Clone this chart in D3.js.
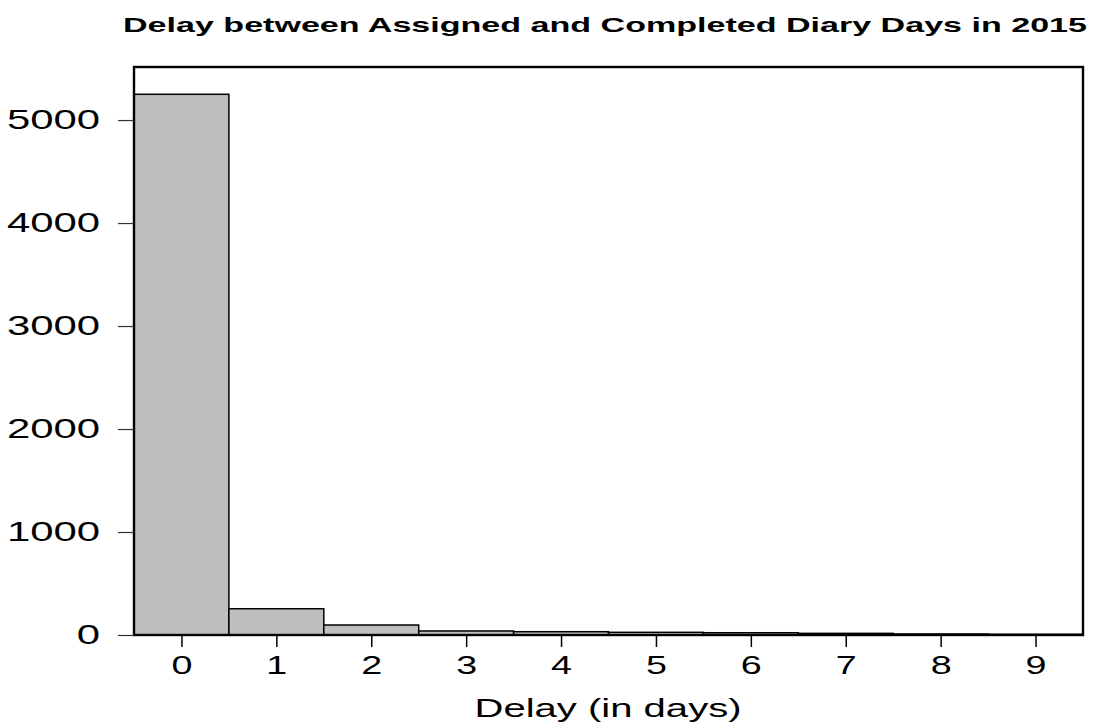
<!DOCTYPE html>
<html>
<head>
<meta charset="utf-8">
<script src="https://cdn.jsdelivr.net/npm/d3@7"></script>
<style>
  body { margin: 0; background: #fff; }
  svg { display: block; font-family: "Liberation Sans", Arial, sans-serif; }
</style>
</head>
<body>
<svg id="chart" width="1096" height="723"></svg>
<script>
// histogram of delay counts
const delays = [0, 1, 2, 3, 4, 5, 6, 7, 8, 9];
const counts = [5250, 255, 97, 39, 32, 26, 22, 16, 10, 7];
const yTicks = [0, 1000, 2000, 3000, 4000, 5000];

const box = { left: 134, right: 1083, top: 67, bottom: 635 };

const svg = d3.select("#chart");

const x = d3.scaleLinear().domain([-0.5, 9.5]).range([box.left, box.right]);
const y = d3.scaleLinear().domain([0, 5515]).range([box.bottom, box.top]);

// the original output has wide, horizontally stretched glyphs
function stretch(sel, k) {
  sel.each(function () {
    const w = this.getComputedTextLength();
    d3.select(this).attr("textLength", w * k).attr("lengthAdjust", "spacingAndGlyphs");
  });
}

// bars
svg.append("g")
  .selectAll("rect")
  .data(delays)
  .enter().append("rect")
  .attr("x", d => x(d - 0.5))
  .attr("width", d => x(d + 0.5) - x(d - 0.5))
  .attr("y", (d, i) => y(counts[i]))
  .attr("height", (d, i) => y(0) - y(counts[i]))
  .attr("fill", "#bebebe")
  .attr("stroke", "#000")
  .attr("stroke-width", 1.5);

// plot frame
svg.append("rect")
  .attr("x", box.left)
  .attr("y", box.top)
  .attr("width", box.right - box.left)
  .attr("height", box.bottom - box.top)
  .attr("fill", "none")
  .attr("stroke", "#000")
  .attr("stroke-width", 2.4);

// y axis
const yAxis = svg.append("g")
  .attr("transform", `translate(${box.left},0)`)
  .call(d3.axisLeft(y).tickValues(yTicks).tickSize(16).tickPadding(18).tickFormat(d3.format("d")));
yAxis.select(".domain").remove();
yAxis.selectAll("line").attr("stroke", "#333").attr("stroke-width", 1.2);
yAxis.selectAll("text").attr("font-size", 27).attr("fill", "#000")
  .attr("font-family", "Liberation Sans, Arial, sans-serif")
  .call(stretch, 1.55);

// x axis
const xAxis = svg.append("g")
  .attr("transform", `translate(0,${box.bottom})`)
  .call(d3.axisBottom(x).tickValues(delays).tickSize(12).tickPadding(9).tickFormat(d3.format("d")));
xAxis.select(".domain").remove();
xAxis.selectAll("line").attr("stroke", "#000").attr("stroke-width", 1.5);
xAxis.selectAll("text").attr("font-size", 26).attr("fill", "#000")
  .attr("font-family", "Liberation Sans, Arial, sans-serif")
  .call(stretch, 1.45);

// titles
svg.append("text")
  .attr("x", 605)
  .attr("y", 32)
  .attr("text-anchor", "middle")
  .attr("font-size", 21)
  .attr("font-weight", "bold")
  .text("Delay between Assigned and Completed Diary Days in 2015")
  .call(s => s.attr("textLength", 964).attr("lengthAdjust", "spacingAndGlyphs"));

svg.append("text")
  .attr("x", 608)
  .attr("y", 717)
  .attr("text-anchor", "middle")
  .attr("font-size", 25.5)
  .text("Delay (in days)")
  .call(s => s.attr("textLength", 267).attr("lengthAdjust", "spacingAndGlyphs"));
</script>
</body>
</html>
